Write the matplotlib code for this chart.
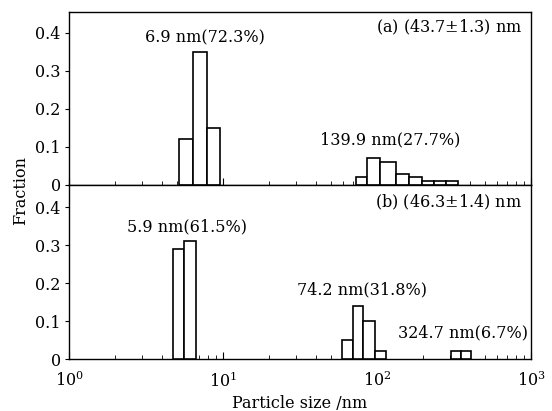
import numpy as np
import matplotlib
matplotlib.use("Agg")
import matplotlib.pyplot as plt
from matplotlib.ticker import LogLocator, NullFormatter, FixedLocator

plt.rcParams['font.family'] = ['DejaVu Serif']
plt.rcParams['mathtext.fontset'] = 'dejavuserif'

# (a) bin edges in nm and fractions
a_edges_1 = [5.2, 6.4, 7.9, 9.5]
a_frac_1 = [0.12, 0.35, 0.15]
a_edges_2 = [73, 86, 105, 132, 161, 196, 235, 280, 336]
a_frac_2 = [0.02, 0.07, 0.06, 0.03, 0.02, 0.01, 0.01, 0.01]

# (b) bin edges in nm and fractions
b_edges_1 = [4.7, 5.55, 6.7]
b_frac_1 = [0.29, 0.31]
b_edges_2 = [59, 69.5, 81.5, 96.5, 114]
b_frac_2 = [0.05, 0.14, 0.10, 0.02]
b_edges_3 = [301, 350, 406]
b_frac_3 = [0.02, 0.02]

y_ticks = [0, 0.1, 0.2, 0.3, 0.4]
y_labels = ['0', '0.1', '0.2', '0.3', '0.4']

fs = 11.5

fig = plt.figure(figsize=(5.52, 4.11), dpi=100)
ax1 = fig.add_axes([0.125, 0.5499, 0.837, 0.4209])
ax2 = fig.add_axes([0.125, 0.1265, 0.837, 0.4234])


def draw_bins(ax, edges, frac):
    edges = np.array(edges, dtype=float)
    ax.bar(edges[:-1], frac, width=np.diff(edges), align='edge',
           color='white', edgecolor='black', linewidth=1.2, zorder=3)


draw_bins(ax1, a_edges_1, a_frac_1)
draw_bins(ax1, a_edges_2, a_frac_2)
draw_bins(ax2, b_edges_1, b_frac_1)
draw_bins(ax2, b_edges_2, b_frac_2)
draw_bins(ax2, b_edges_3, b_frac_3)

for ax, ymax in [(ax1, 0.455), (ax2, 0.458)]:
    ax.set_xscale('log')
    ax.set_xlim(1, 1000)
    ax.set_ylim(0, ymax)
    ax.yaxis.set_major_locator(FixedLocator(y_ticks))
    ax.set_yticklabels(y_labels)
    ax.xaxis.set_major_locator(LogLocator(base=10))
    ax.xaxis.set_minor_locator(LogLocator(base=10, subs=np.arange(2, 10)))
    ax.xaxis.set_minor_formatter(NullFormatter())
    ax.tick_params(axis='x', which='both', direction='in', labelsize=fs,
                   top=False)
    ax.tick_params(axis='x', which='major', length=5)
    ax.tick_params(axis='x', which='minor', length=3)
    ax.tick_params(axis='y', which='major', direction='out', length=3,
                   pad=3, labelsize=fs, right=False)
    for s in ax.spines.values():
        s.set_linewidth(1.0)

ax1.tick_params(axis='x', which='both', labelbottom=False)
ax2.tick_params(axis='x', which='major', pad=9)

ax1.text(0.98, 0.91, r'(a) (43.7$\pm$1.3) nm', transform=ax1.transAxes,
         ha='right', va='center', fontsize=fs)
ax1.text(0.295, 0.85, '6.9 nm(72.3%)', transform=ax1.transAxes,
         ha='center', va='center', fontsize=fs)
ax1.text(0.695, 0.26, '139.9 nm(27.7%)', transform=ax1.transAxes,
         ha='center', va='center', fontsize=fs)

ax2.text(0.98, 0.9, r'(b) (46.3$\pm$1.4) nm', transform=ax2.transAxes,
         ha='right', va='center', fontsize=fs)
ax2.text(0.255, 0.76, '5.9 nm(61.5%)', transform=ax2.transAxes,
         ha='center', va='center', fontsize=fs)
ax2.text(0.635, 0.395, '74.2 nm(31.8%)', transform=ax2.transAxes,
         ha='center', va='center', fontsize=fs)
ax2.text(0.852, 0.15, '324.7 nm(6.7%)', transform=ax2.transAxes,
         ha='center', va='center', fontsize=fs)

ax2.set_xlabel('Particle size /nm', fontsize=fs, labelpad=3)
fig.text(0.038, 0.537, 'Fraction', rotation=90, ha='center', va='center',
         fontsize=fs)

fig.savefig('out.png', dpi=100)
